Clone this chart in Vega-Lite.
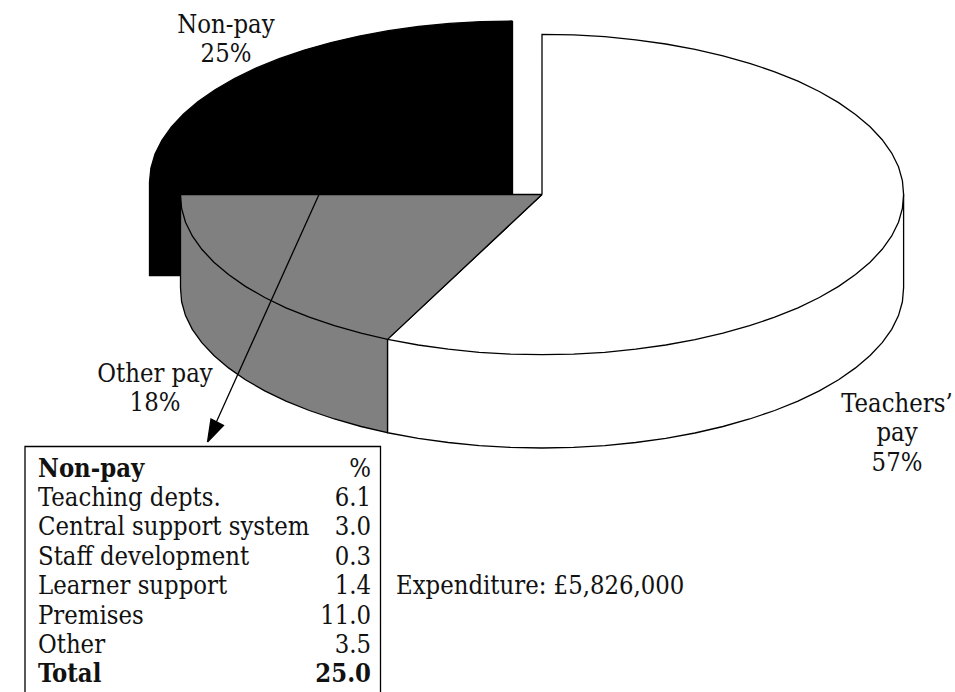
{"$schema":"https://vega.github.io/schema/vega-lite/v6.json","width":955,"height":692,"padding":0,"autosize":"none","background":"white","view":{"stroke":null},
"datasets":{"outline":[
{"part":"nonpay","slice":"Non-pay","i":1,"x":512.5,"y":21},{"part":"nonpay","slice":"Non-pay","i":2,"x":480.9,"y":21.6},{"part":"nonpay","slice":"Non-pay","i":3,"x":449.5,"y":23.4},{"part":"nonpay","slice":"Non-pay","i":4,"x":418.6,"y":26.5},{"part":"nonpay","slice":"Non-pay","i":5,"x":388.4,"y":30.7},{"part":"nonpay","slice":"Non-pay","i":6,"x":359.1,"y":36.1},{"part":"nonpay","slice":"Non-pay","i":7,"x":331,"y":42.6},{"part":"nonpay","slice":"Non-pay","i":8,"x":304.3,"y":50.1},{"part":"nonpay","slice":"Non-pay","i":9,"x":279.2,"y":58.7},{"part":"nonpay","slice":"Non-pay","i":10,"x":255.8,"y":68.2},{"part":"nonpay","slice":"Non-pay","i":11,"x":234.4,"y":78.5},{"part":"nonpay","slice":"Non-pay","i":12,"x":215.1,"y":89.7},{"part":"nonpay","slice":"Non-pay","i":13,"x":198.1,"y":101.5},{"part":"nonpay","slice":"Non-pay","i":14,"x":183.5,"y":114},{"part":"nonpay","slice":"Non-pay","i":15,"x":171.4,"y":126.9},{"part":"nonpay","slice":"Non-pay","i":16,"x":161.9,"y":140.3},{"part":"nonpay","slice":"Non-pay","i":17,"x":155,"y":154},{"part":"nonpay","slice":"Non-pay","i":18,"x":150.9,"y":168},{"part":"nonpay","slice":"Non-pay","i":19,"x":149.5,"y":182},{"part":"nonpay","slice":"Non-pay","i":20,"x":149.5,"y":275.5},{"part":"nonpay","slice":"Non-pay","i":21,"x":181,"y":275.5},{"part":"nonpay","slice":"Non-pay","i":22,"x":181,"y":194.8},{"part":"nonpay","slice":"Non-pay","i":23,"x":512.5,"y":194.8},{"part":"nonpay","slice":"Non-pay","i":24,"x":512.5,"y":21},

{"part":"teachers-side","slice":"Teachers' pay","i":1,"x":903.6,"y":194.5},{"part":"teachers-side","slice":"Teachers' pay","i":2,"x":903.6,"y":287.8},{"part":"teachers-side","slice":"Teachers' pay","i":3,"x":902.4,"y":301.8},{"part":"teachers-side","slice":"Teachers' pay","i":4,"x":898.5,"y":315.6},{"part":"teachers-side","slice":"Teachers' pay","i":5,"x":891.7,"y":329.3},{"part":"teachers-side","slice":"Teachers' pay","i":6,"x":882.2,"y":342.6},{"part":"teachers-side","slice":"Teachers' pay","i":7,"x":870.1,"y":355.5},{"part":"teachers-side","slice":"Teachers' pay","i":8,"x":855.5,"y":367.9},{"part":"teachers-side","slice":"Teachers' pay","i":9,"x":838.6,"y":379.7},{"part":"teachers-side","slice":"Teachers' pay","i":10,"x":819.3,"y":390.8},{"part":"teachers-side","slice":"Teachers' pay","i":11,"x":798,"y":401.1},{"part":"teachers-side","slice":"Teachers' pay","i":12,"x":774.7,"y":410.5},{"part":"teachers-side","slice":"Teachers' pay","i":13,"x":749.6,"y":419},{"part":"teachers-side","slice":"Teachers' pay","i":14,"x":723,"y":426.5},{"part":"teachers-side","slice":"Teachers' pay","i":15,"x":695,"y":433},{"part":"teachers-side","slice":"Teachers' pay","i":16,"x":665.8,"y":438.3},{"part":"teachers-side","slice":"Teachers' pay","i":17,"x":635.7,"y":442.5},{"part":"teachers-side","slice":"Teachers' pay","i":18,"x":604.8,"y":445.6},{"part":"teachers-side","slice":"Teachers' pay","i":19,"x":573.6,"y":447.4},{"part":"teachers-side","slice":"Teachers' pay","i":20,"x":542,"y":448},{"part":"teachers-side","slice":"Teachers' pay","i":21,"x":510.4,"y":447.4},{"part":"teachers-side","slice":"Teachers' pay","i":22,"x":479.2,"y":445.6},{"part":"teachers-side","slice":"Teachers' pay","i":23,"x":448.3,"y":442.5},{"part":"teachers-side","slice":"Teachers' pay","i":24,"x":418.2,"y":438.3},{"part":"teachers-side","slice":"Teachers' pay","i":25,"x":389,"y":433},{"part":"teachers-side","slice":"Teachers' pay","i":26,"x":387.5,"y":432.7},{"part":"teachers-side","slice":"Teachers' pay","i":27,"x":387.5,"y":339.4},

{"part":"other-side","slice":"Other pay","i":1,"x":387.5,"y":339.4},{"part":"other-side","slice":"Other pay","i":2,"x":387.5,"y":432.7},{"part":"other-side","slice":"Other pay","i":3,"x":361,"y":426.5},{"part":"other-side","slice":"Other pay","i":4,"x":334.4,"y":419},{"part":"other-side","slice":"Other pay","i":5,"x":309.3,"y":410.5},{"part":"other-side","slice":"Other pay","i":6,"x":286,"y":401.1},{"part":"other-side","slice":"Other pay","i":7,"x":264.7,"y":390.8},{"part":"other-side","slice":"Other pay","i":8,"x":245.4,"y":379.7},{"part":"other-side","slice":"Other pay","i":9,"x":228.5,"y":367.9},{"part":"other-side","slice":"Other pay","i":10,"x":213.9,"y":355.5},{"part":"other-side","slice":"Other pay","i":11,"x":201.8,"y":342.6},{"part":"other-side","slice":"Other pay","i":12,"x":192.3,"y":329.3},{"part":"other-side","slice":"Other pay","i":13,"x":185.5,"y":315.6},{"part":"other-side","slice":"Other pay","i":14,"x":181.6,"y":301.8},{"part":"other-side","slice":"Other pay","i":15,"x":180.5,"y":287.8},{"part":"other-side","slice":"Other pay","i":16,"x":180.5,"y":194.5},

{"part":"teachers-top","slice":"Teachers' pay","i":1,"x":542,"y":194.5},{"part":"teachers-top","slice":"Teachers' pay","i":2,"x":542,"y":34.3},{"part":"teachers-top","slice":"Teachers' pay","i":3,"x":573.6,"y":34.9},{"part":"teachers-top","slice":"Teachers' pay","i":4,"x":604.8,"y":36.7},{"part":"teachers-top","slice":"Teachers' pay","i":5,"x":635.7,"y":39.8},{"part":"teachers-top","slice":"Teachers' pay","i":6,"x":665.8,"y":44},{"part":"teachers-top","slice":"Teachers' pay","i":7,"x":695,"y":49.3},{"part":"teachers-top","slice":"Teachers' pay","i":8,"x":723,"y":55.8},{"part":"teachers-top","slice":"Teachers' pay","i":9,"x":749.6,"y":63.3},{"part":"teachers-top","slice":"Teachers' pay","i":10,"x":774.7,"y":71.8},{"part":"teachers-top","slice":"Teachers' pay","i":11,"x":798,"y":81.2},{"part":"teachers-top","slice":"Teachers' pay","i":12,"x":819.3,"y":91.5},{"part":"teachers-top","slice":"Teachers' pay","i":13,"x":838.6,"y":102.6},{"part":"teachers-top","slice":"Teachers' pay","i":14,"x":855.5,"y":114.4},{"part":"teachers-top","slice":"Teachers' pay","i":15,"x":870.1,"y":126.8},{"part":"teachers-top","slice":"Teachers' pay","i":16,"x":882.2,"y":139.7},{"part":"teachers-top","slice":"Teachers' pay","i":17,"x":891.7,"y":153},{"part":"teachers-top","slice":"Teachers' pay","i":18,"x":898.5,"y":166.7},{"part":"teachers-top","slice":"Teachers' pay","i":19,"x":902.4,"y":180.5},{"part":"teachers-top","slice":"Teachers' pay","i":20,"x":903.6,"y":194.5},{"part":"teachers-top","slice":"Teachers' pay","i":21,"x":902.4,"y":208.5},{"part":"teachers-top","slice":"Teachers' pay","i":22,"x":898.5,"y":222.3},{"part":"teachers-top","slice":"Teachers' pay","i":23,"x":891.7,"y":236},{"part":"teachers-top","slice":"Teachers' pay","i":24,"x":882.2,"y":249.3},{"part":"teachers-top","slice":"Teachers' pay","i":25,"x":870.1,"y":262.2},{"part":"teachers-top","slice":"Teachers' pay","i":26,"x":855.5,"y":274.6},{"part":"teachers-top","slice":"Teachers' pay","i":27,"x":838.6,"y":286.4},{"part":"teachers-top","slice":"Teachers' pay","i":28,"x":819.3,"y":297.5},{"part":"teachers-top","slice":"Teachers' pay","i":29,"x":798,"y":307.8},{"part":"teachers-top","slice":"Teachers' pay","i":30,"x":774.7,"y":317.2},{"part":"teachers-top","slice":"Teachers' pay","i":31,"x":749.6,"y":325.7},{"part":"teachers-top","slice":"Teachers' pay","i":32,"x":723,"y":333.2},{"part":"teachers-top","slice":"Teachers' pay","i":33,"x":695,"y":339.7},{"part":"teachers-top","slice":"Teachers' pay","i":34,"x":665.8,"y":345},{"part":"teachers-top","slice":"Teachers' pay","i":35,"x":635.7,"y":349.2},{"part":"teachers-top","slice":"Teachers' pay","i":36,"x":604.8,"y":352.3},{"part":"teachers-top","slice":"Teachers' pay","i":37,"x":573.6,"y":354.1},{"part":"teachers-top","slice":"Teachers' pay","i":38,"x":542,"y":354.7},{"part":"teachers-top","slice":"Teachers' pay","i":39,"x":510.4,"y":354.1},{"part":"teachers-top","slice":"Teachers' pay","i":40,"x":479.2,"y":352.3},{"part":"teachers-top","slice":"Teachers' pay","i":41,"x":448.3,"y":349.2},{"part":"teachers-top","slice":"Teachers' pay","i":42,"x":418.2,"y":345},{"part":"teachers-top","slice":"Teachers' pay","i":43,"x":389,"y":339.7},{"part":"teachers-top","slice":"Teachers' pay","i":44,"x":387.5,"y":339.4},{"part":"teachers-top","slice":"Teachers' pay","i":45,"x":542,"y":194.5},

{"part":"other-top","slice":"Other pay","i":1,"x":542,"y":194.5},{"part":"other-top","slice":"Other pay","i":2,"x":387.5,"y":339.4},{"part":"other-top","slice":"Other pay","i":3,"x":361,"y":333.2},{"part":"other-top","slice":"Other pay","i":4,"x":334.4,"y":325.7},{"part":"other-top","slice":"Other pay","i":5,"x":309.3,"y":317.2},{"part":"other-top","slice":"Other pay","i":6,"x":286,"y":307.8},{"part":"other-top","slice":"Other pay","i":7,"x":264.7,"y":297.5},{"part":"other-top","slice":"Other pay","i":8,"x":245.4,"y":286.4},{"part":"other-top","slice":"Other pay","i":9,"x":228.5,"y":274.6},{"part":"other-top","slice":"Other pay","i":10,"x":213.9,"y":262.2},{"part":"other-top","slice":"Other pay","i":11,"x":201.8,"y":249.3},{"part":"other-top","slice":"Other pay","i":12,"x":192.3,"y":236},{"part":"other-top","slice":"Other pay","i":13,"x":185.5,"y":222.3},{"part":"other-top","slice":"Other pay","i":14,"x":181.6,"y":208.5},{"part":"other-top","slice":"Other pay","i":15,"x":180.5,"y":194.5},{"part":"other-top","slice":"Other pay","i":16,"x":542,"y":194.5},

{"part":"leader","slice":"Non-pay","i":1,"x":319,"y":194.5},{"part":"leader","slice":"Non-pay","i":2,"x":215,"y":425},
{"part":"arrowhead","slice":"Non-pay","i":1,"x":207.5,"y":442},{"part":"arrowhead","slice":"Non-pay","i":2,"x":211,"y":419},{"part":"arrowhead","slice":"Non-pay","i":3,"x":223.5,"y":425.5},{"part":"arrowhead","slice":"Non-pay","i":4,"x":207.5,"y":442},

{"part":"table-box","slice":"Breakdown","i":1,"x":25,"y":692},{"part":"table-box","slice":"Breakdown","i":2,"x":25,"y":446.5},{"part":"table-box","slice":"Breakdown","i":3,"x":380.5,"y":446.5},{"part":"table-box","slice":"Breakdown","i":4,"x":380.5,"y":692}
],
"labels":[
{"text":"Non-pay","x":226,"y":33,"place":"middle"},{"text":"25%","x":226,"y":62,"place":"middle"},
{"text":"Other pay","x":155,"y":382,"place":"middle"},{"text":"18%","x":155,"y":411,"place":"middle"},
{"text":"Teachers’","x":897,"y":411.5,"place":"middle"},{"text":"pay","x":897,"y":441,"place":"middle"},{"text":"57%","x":897,"y":470.5,"place":"middle"},
{"text":"Non-pay","x":38,"y":477,"place":"left-bold"},{"text":"Total","x":38,"y":682,"place":"left-bold"},
{"text":"Teaching depts.","x":38,"y":506,"place":"left"},{"text":"Central support system","x":38,"y":535,"place":"left"},{"text":"Staff development","x":38,"y":564.5,"place":"left"},{"text":"Learner support","x":38,"y":594,"place":"left"},{"text":"Premises","x":38,"y":623.5,"place":"left"},{"text":"Other","x":38,"y":653,"place":"left"},
{"text":"Expenditure: £5,826,000","x":396,"y":594,"place":"left"},
{"text":"%","x":371,"y":477,"place":"right"},{"text":"6.1","x":371,"y":506,"place":"right"},{"text":"3.0","x":371,"y":535,"place":"right"},{"text":"0.3","x":371,"y":564.5,"place":"right"},{"text":"1.4","x":371,"y":594,"place":"right"},{"text":"11.0","x":371,"y":623.5,"place":"right"},{"text":"3.5","x":371,"y":653,"place":"right"},
{"text":"25.0","x":371,"y":682,"place":"right-bold"}
]},
"encoding":{
"x":{"field":"x","type":"quantitative","scale":{"domain":[0,955],"nice":false,"zero":false},"axis":null},
"y":{"field":"y","type":"quantitative","scale":{"domain":[692,0],"nice":false,"zero":false},"axis":null}
},
"layer":[
{"data":{"name":"outline"},"mark":{"type":"line","stroke":"black","strokeWidth":1.3,"strokeJoin":"miter","clip":false},
"encoding":{"detail":{"field":"part"},"order":{"field":"i","type":"quantitative"},
"fill":{"field":"slice","type":"nominal","legend":null,"scale":{"domain":["Non-pay","Teachers' pay","Other pay","Breakdown"],"range":["#000000","#ffffff","#808080","#ffffff"]}}}},
{"data":{"name":"labels"},"transform":[{"filter":"datum.place==='middle'"}],"mark":{"type":"text","align":"center","baseline":"alphabetic","font":"DejaVu Serif Condensed","fontSize":25.4,"fill":"#111"},"encoding":{"text":{"field":"text"}}},
{"data":{"name":"labels"},"transform":[{"filter":"datum.place==='left'"}],"mark":{"type":"text","align":"left","baseline":"alphabetic","font":"DejaVu Serif Condensed","fontSize":25.4,"fill":"#111"},"encoding":{"text":{"field":"text"}}},
{"data":{"name":"labels"},"transform":[{"filter":"datum.place==='left-bold'"}],"mark":{"type":"text","align":"left","baseline":"alphabetic","font":"DejaVu Serif Condensed","fontWeight":"bold","fontSize":25.4,"fill":"#111"},"encoding":{"text":{"field":"text"}}},
{"data":{"name":"labels"},"transform":[{"filter":"datum.place==='right'"}],"mark":{"type":"text","align":"right","baseline":"alphabetic","font":"DejaVu Serif Condensed","fontSize":25.4,"fill":"#111"},"encoding":{"text":{"field":"text"}}},
{"data":{"name":"labels"},"transform":[{"filter":"datum.place==='right-bold'"}],"mark":{"type":"text","align":"right","baseline":"alphabetic","font":"DejaVu Serif Condensed","fontWeight":"bold","fontSize":25.4,"fill":"#111"},"encoding":{"text":{"field":"text"}}}
]}
